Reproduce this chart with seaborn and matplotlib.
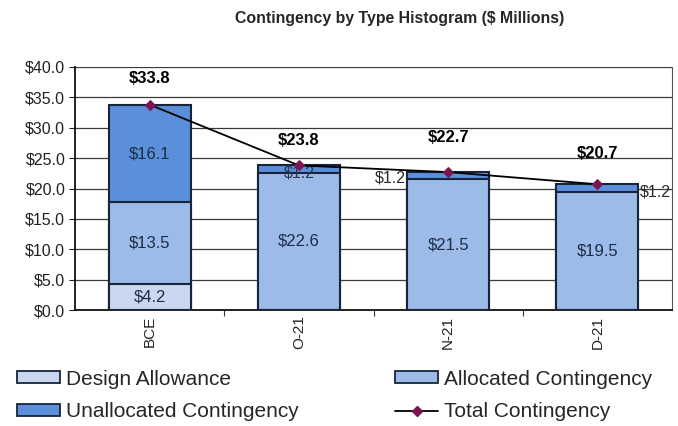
import matplotlib
matplotlib.use("Agg")
import matplotlib.pyplot as plt
import seaborn as sns
import numpy as np
import pandas as pd
from matplotlib.patches import Patch
from matplotlib.lines import Line2D

categories = ["BCE", "O-21", "N-21", "D-21"]
design_allowance = [4.2, 0.0, 0.0, 0.0]
allocated = [13.5, 22.6, 21.5, 19.5]
unallocated = [16.1, 1.2, 1.2, 1.2]
total = [33.8, 23.8, 22.7, 20.7]
yticks = [0, 5, 10, 15, 20, 25, 30, 35, 40]

# label offsets above the total markers (style only)
total_label_offsets = [4.3, 4.1, 5.7, 5.1]

c_design = "#c9d7ef"
c_alloc = "#9cbbe9"
c_unalloc = "#5b8fd9"
edge = "#17243a"
text_c = "#1c2c44"

sns.set_theme(style="white")
plt.rcParams["font.family"] = ["Liberation Sans", "DejaVu Sans"]

fig = plt.figure(figsize=(6.78, 4.26), dpi=100)
ax = fig.add_axes([75/678, 1-310/426, (672-75)/678, (310-67)/426])

df = pd.DataFrame({"cat": categories, "design": design_allowance,
                   "alloc": allocated, "unalloc": unallocated, "total": total})
df["lvl2"] = df["design"] + df["alloc"]
df["lvl3"] = df["lvl2"] + df["unalloc"]

bw = 0.55
sns.barplot(data=df, x="cat", y="lvl3", color=c_unalloc, edgecolor=edge,
            linewidth=1.5, width=bw, saturation=1, ax=ax, zorder=2)
sns.barplot(data=df, x="cat", y="lvl2", color=c_alloc, edgecolor=edge,
            linewidth=1.5, width=bw, saturation=1, ax=ax, zorder=3)
sns.barplot(data=df, x="cat", y="design", color=c_design, edgecolor=edge,
            linewidth=1.5, width=bw, saturation=1, ax=ax, zorder=4)

sns.lineplot(data=df, x="cat", y="total", sort=False, color="black", lw=1.3,
             marker="D", markersize=5, markerfacecolor="#7b1650",
             markeredgecolor="#7b1650", ax=ax, zorder=6, legend=False)

# segment labels
for i, cat in enumerate(categories):
    if design_allowance[i] > 0:
        ax.text(i, design_allowance[i] / 2, f"${design_allowance[i]:.1f}", ha="center",
                va="center", fontsize=12, color=text_c, zorder=7)
    ax.text(i, design_allowance[i] + allocated[i] / 2, f"${allocated[i]:.1f}",
            ha="center", va="center", fontsize=12, color=text_c, zorder=7)
    base = design_allowance[i] + allocated[i]
    if unallocated[i] > 3:
        ax.text(i, base + unallocated[i] / 2, f"${unallocated[i]:.1f}", ha="center",
                va="center", fontsize=12, color=text_c, zorder=7)
    ax.text(i, total[i] + total_label_offsets[i], f"${total[i]:.1f}", ha="center", va="center",
            fontsize=12, fontweight="bold", color="black", zorder=7)

# small $1.2 labels
ax.text(1, design_allowance[1] + allocated[1] + unallocated[1] / 2 - 0.6, f"${unallocated[1]:.1f}",
        ha="center", va="center", fontsize=11.5, color="#2a3550", zorder=5)
ax.text(2 - bw / 2 - 0.01, design_allowance[2] + allocated[2] + unallocated[2] / 2 - 0.3,
        f"${unallocated[2]:.1f}", ha="right", va="center", fontsize=11.5, color="#2a2a2a", zorder=7)
ax.text(3 + bw / 2 + 0.01, design_allowance[3] + allocated[3] + unallocated[3] / 2 - 0.6,
        f"${unallocated[3]:.1f}", ha="left", va="center", fontsize=11.5, color="#2a2a2a", zorder=7)

ax.set_ylim(0, 40)
ax.set_xlim(-0.5, 3.5)
ax.set_yticks(yticks)
ax.set_yticklabels([f"${v:.1f}" for v in yticks], fontsize=11.5, color="#222222")
ax.set_xticks(range(len(categories)))
ax.set_xticklabels(categories, rotation=90, fontsize=11, color="#222222")
ax.set_xticks([0.5, 1.5, 2.5], minor=True)
ax.tick_params(axis="x", which="major", length=0, pad=4)
ax.tick_params(axis="x", which="minor", length=4, width=0.8, color="#333333", direction="out", bottom=True)
ax.tick_params(axis="y", length=4, width=0.8, color="#222222", direction="out", left=True, pad=3)
ax.set_xlabel("")
ax.set_ylabel("")
ax.yaxis.grid(True, color="#3a3a3a", lw=0.9, zorder=0)
ax.set_axisbelow(True)
for s in ["left", "bottom"]:
    ax.spines[s].set_color("#111111")
    ax.spines[s].set_linewidth(1.3)
ax.spines["top"].set_visible(False)
ax.spines["right"].set_color("#555555")
ax.spines["right"].set_linewidth(0.8)

fig.text(400/678, 1-18/426, "Contingency by Type Histogram ($ Millions)", ha="center",
         va="center", fontsize=11.4, fontweight="bold")

handles = [
    Patch(facecolor=c_design, edgecolor=edge, lw=1.3),
    Patch(facecolor=c_unalloc, edgecolor=edge, lw=1.3),
    Patch(facecolor=c_alloc, edgecolor=edge, lw=1.3),
    Line2D([0], [0], color="black", lw=1.3, marker="D", markersize=5,
           markerfacecolor="#7b1650", markeredgecolor="#7b1650"),
]
labels = ["Design Allowance", "Unallocated Contingency", "Allocated Contingency", "Total Contingency"]
fig.legend(handles, labels, loc="center left", bbox_to_anchor=(9/678, 1-395.5/426), ncol=2,
           frameon=False, fontsize=15, handlelength=2.07, handleheight=0.5,
           handletextpad=0.25, columnspacing=4.65, labelspacing=0.65, borderaxespad=0,
           borderpad=0.4)

fig.savefig("out.png", dpi=100, facecolor="white")
